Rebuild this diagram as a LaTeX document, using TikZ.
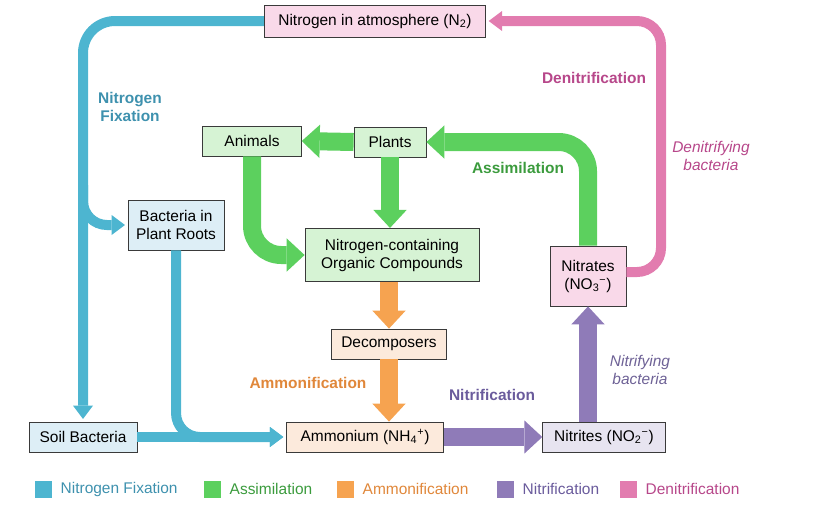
\documentclass[tikz,border=0pt]{standalone}
\usepackage{fontspec}
\setmainfont{Liberation Sans}
\usepackage{xcolor}
\definecolor{boxBorder}{HTML}{3A3A3A}
\definecolor{fixColor}{HTML}{4DB5D0}
\definecolor{fixText}{HTML}{3E91AE}
\definecolor{fixFill}{HTML}{DDEEF6}
\definecolor{assimColor}{HTML}{5CD05E}
\definecolor{assimText}{HTML}{3B9B3D}
\definecolor{assimFill}{HTML}{D6F3D4}
\definecolor{ammonColor}{HTML}{F6A350}
\definecolor{ammonText}{HTML}{E0873A}
\definecolor{ammonFill}{HTML}{FCEADC}
\definecolor{nitrColor}{HTML}{8F7BB8}
\definecolor{nitrText}{HTML}{6A5B9C}
\definecolor{nitrFill}{HTML}{E7E4F0}
\definecolor{denitColor}{HTML}{E27CAF}
\definecolor{denitText}{HTML}{B7478A}
\definecolor{denitFill}{HTML}{F9D9E9}
\usepackage{tikz}
\usetikzlibrary{arrows.meta,positioning,calc}
\newcommand{\cycleFont}{\fontsize{11.6}{13.5}\selectfont}
\tikzset{%
  cycleBox/.style={%
    rectangle,
    draw=boxBorder,
    line width=0.6pt,
    minimum height=22.5pt,
    inner sep=2pt,
    align=center,
    font=\cycleFont
  },
  thinFlow/.style={%
    -{Triangle[length=10pt,width=15pt,line width=0pt]},
    line width=7.5pt,
    rounded corners=18pt
  },
  wideFlow/.style={%
    -{Triangle[length=13.5pt,width=25pt,line width=0pt]},
    line width=13.5pt,
    rounded corners=22pt
  },
  fixArrow/.style={thinFlow, color=fixColor},
  denitArrow/.style={thinFlow, color=denitColor},
  assimArrow/.style={wideFlow, color=assimColor},
  ammonArrow/.style={wideFlow, color=ammonColor},
  nitrArrow/.style={wideFlow, color=nitrColor},
  stageLabel/.style={%
    font=\cycleFont\bfseries,
    align=center,
    inner sep=1pt
  },
  bacteriaLabel/.style={%
    font=\cycleFont\itshape,
    align=center,
    inner sep=1pt
  },
  legendSwatch/.style={%
    rectangle,
    minimum size=12.75pt,
    inner sep=0pt
  },
  legendText/.style={%
    inner sep=0pt,
    anchor=west,
    font=\cycleFont
  }
}

\begin{document}
\begin{tikzpicture}[x=0.75pt,y=-0.75pt]
            \useasboundingbox (0,0) rectangle (832,508);

            % boxes
            \node[cycleBox, fill=denitFill, minimum width=166pt, minimum height=24pt] (atm) at (375,21) {Nitrogen in atmosphere (N\textsubscript{2})};
            \node[cycleBox, fill=assimFill, minimum width=74pt] (animals) at (252,141) {Animals};
            \node[cycleBox, fill=assimFill, minimum width=54pt] (plants) at (390,142) {Plants};
            \node[cycleBox, fill=fixFill, minimum width=72pt, minimum height=37.5pt] (roots) at (176,225) {Bacteria in\\Plant Roots};
            \node[cycleBox, fill=assimFill, minimum width=130.5pt, minimum height=40pt] (organic) at (392,255) {Nitrogen-containing\\Organic Compounds};
            \node[cycleBox, fill=ammonFill, minimum width=86pt] (decomp) at (389,344) {Decomposers};
            \node[cycleBox, fill=denitFill, minimum width=57pt, minimum height=45pt] (nitrates) at (588,276) {Nitrates\\(NO\textsubscript{3}\textsuperscript{−})};
            \node[cycleBox, fill=fixFill, minimum width=81pt] (soil) at (83,437) {Soil Bacteria};
            \node[cycleBox, fill=ammonFill, minimum width=118pt] (ammonium) at (365,437) {Ammonium (NH\textsubscript{4}\textsuperscript{+})};
            \node[cycleBox, fill=nitrFill, minimum width=92pt] (nitrites) at (604,437) {Nitrites (NO\textsubscript{2}\textsuperscript{−})};

            % nitrogen fixation
            \coordinate (fixSplit) at (soil.north |- 0,185);
            \draw[fixArrow, shorten >=2pt, rounded corners=24pt] (atm.west) -| (soil.north);
            \draw[fixArrow, shorten >=2pt] (fixSplit) |- (roots.west);
            \draw[fixArrow, shorten >=2pt] (roots.south) |- (ammonium.west);
            \draw[fixArrow, shorten >=2pt] (soil.east) -- (ammonium.west);

            % assimilation
            \draw[assimArrow] (nitrates.north) |- (plants.east);
            \draw[assimArrow] (plants.west) -- (animals.east);
            \draw[assimArrow] (plants.south) -- (plants.south |- organic.north);
            \draw[assimArrow] (animals.south) |- (organic.west);

            % ammonification
            \draw[ammonArrow] (decomp.north |- organic.south) -- (decomp.north);
            \draw[ammonArrow] (decomp.south) -- (decomp.south |- ammonium.north);

            % nitrification
            \draw[nitrArrow] (ammonium.east) -- (nitrites.west);
            \draw[nitrArrow] (nitrates.south |- nitrites.north) -- (nitrates.south);

            % denitrification
            \coordinate (denitCorner) at (661,21);
            \draw[denitArrow, shorten >=2pt] ([yshift=3pt]nitrates.east) -| (denitCorner) -- (atm.east);

            % process labels
            \node[stageLabel, text=fixText] (fixLabel) at (130,107) {Nitrogen\\Fixation};
            \node[stageLabel, text=denitText] (denitLabel) at (594,78) {Denitrification};
            \node[bacteriaLabel, text=denitText] (denitBacteria) at (711,156) {Denitrifying\\bacteria};
            \node[stageLabel, text=assimText] (assimLabel) at (518,168) {Assimilation};
            \node[stageLabel, text=ammonText] (ammonLabel) at (308,383) {Ammonification};
            \node[stageLabel, text=nitrText] (nitrLabel) at (492,395) {Nitrification};
            \node[bacteriaLabel, text=nitrText!80!gray] (nitrBacteria) at (640,370) {Nitrifying\\bacteria};

            % legend
            \node[legendSwatch, fill=fixColor] (keyFix) at (43,489) {};
            \node[legendText, text=fixText, right=6.5pt of keyFix] (keyFixText) {Nitrogen Fixation};
            \node[legendSwatch, fill=assimColor] (keyAssim) at (212,489) {};
            \node[legendText, text=assimText, right=6.5pt of keyAssim] (keyAssimText) {Assimilation};
            \node[legendSwatch, fill=ammonColor] (keyAmmon) at (345,489) {};
            \node[legendText, text=ammonText, right=6.5pt of keyAmmon] (keyAmmonText) {Ammonification};
            \node[legendSwatch, fill=nitrColor] (keyNitr) at (505,489) {};
            \node[legendText, text=nitrText, right=6.5pt of keyNitr] (keyNitrText) {Nitrification};
            \node[legendSwatch, fill=denitColor] (keyDenit) at (628,489) {};
            \node[legendText, text=denitText, right=6.5pt of keyDenit] (keyDenitText) {Denitrification};
        \end{tikzpicture}
\end{document}
